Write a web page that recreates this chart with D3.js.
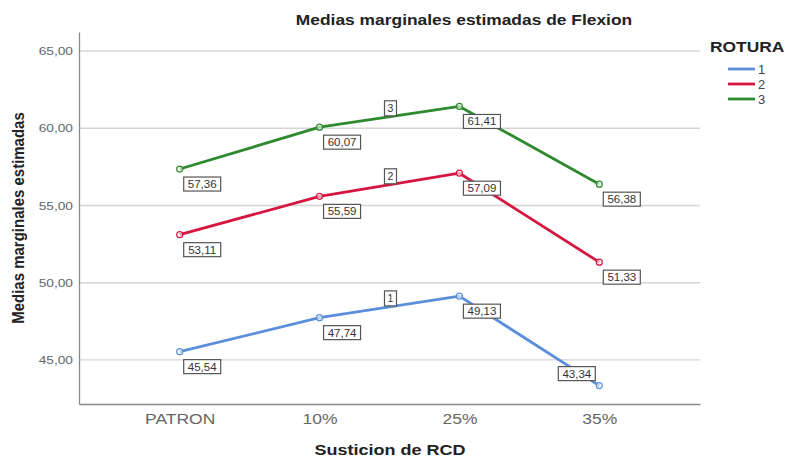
<!DOCTYPE html>
<html>
<head>
<meta charset="utf-8">
<script src="https://cdn.jsdelivr.net/npm/d3@7"></script>
<style>
  body { margin: 0; background: #fff; }
  text { font-family: "Liberation Sans", Arial, sans-serif; }
</style>
</head>
<body>
<svg id="chart" width="788" height="459"></svg>
<script>
// Data
const categories = ["PATRON", "10%", "25%", "35%"];
const seriesNames = ["1", "2", "3"];
const rotura1 = [45.54, 47.74, 49.13, 43.34];
const rotura2 = [53.11, 55.59, 57.09, 51.33];
const rotura3 = [57.36, 60.07, 61.41, 56.38];
const yTicks = [45, 50, 55, 60, 65];

const colors = ["#5b8fdc", "#d6163f", "#2f8a2f"];
const series = [rotura1, rotura2, rotura3].map((vals, i) => ({
    name: seriesNames[i],
    color: colors[i],
    values: vals.map((v, j) => ({cat: categories[j], v: v}))
}));

const margin = {top: 32, right: 88, bottom: 55, left: 79},
    width = 788 - margin.left - margin.right,
    height = 459 - margin.top - margin.bottom;

// the reference picture is stretched sideways, so text is widened too
const stretch = 1.2;

const svg = d3.select("#chart");
const g = svg.append("g")
    .attr("transform", `translate(${margin.left},${margin.top})`);

const locale = d3.formatLocale({decimal: ",", thousands: ".", grouping: [3], currency: ["", ""]});
const fmt = locale.format(".2f");

// text placed at (x, y) and widened by sx
function addText(parent, x, y, sx) {
    return parent.append("text")
        .attr("transform", `translate(${x},${y}) scale(${sx},1)`);
}

// Scales
const x = d3.scalePoint()
    .domain(categories)
    .range([0, width])
    .padding(0.72);

const y = d3.scaleLinear()
    .domain([42.15, 66.23])
    .range([height, 0]);

// Grid lines
g.append("g")
    .selectAll("line")
    .data(yTicks)
    .enter()
    .append("line")
    .attr("x1", 0)
    .attr("x2", width)
    .attr("y1", d => y(d))
    .attr("y2", d => y(d))
    .attr("stroke", "#d4d4d4")
    .attr("stroke-width", 1.3);

// Axes
const yAxis = g.append("g")
    .call(d3.axisLeft(y).tickValues(yTicks).tickFormat(fmt).tickSize(0).tickPadding(0));
yAxis.select(".domain").attr("stroke", "#8a8a8a").attr("stroke-width", 1.3);
yAxis.selectAll("text")
    .attr("x", 0)
    .attr("transform", "translate(-6,0) scale(1.25,1)")
    .attr("fill", "#666").style("font-size", "11px");

const xAxis = g.append("g")
    .attr("transform", `translate(0,${height})`)
    .call(d3.axisBottom(x).tickSize(0).tickPadding(10));
xAxis.select(".domain").attr("stroke", "#8a8a8a").attr("stroke-width", 1.3);
xAxis.selectAll("text")
    .attr("transform", "scale(1.25,1)")
    .attr("fill", "#666").style("font-size", "14px");

// Lines
const line = d3.line()
    .x(d => x(d.cat))
    .y(d => y(d.v));

g.selectAll(".series")
    .data(series)
    .enter()
    .append("path")
    .attr("class", "series")
    .attr("d", d => line(d.values))
    .attr("fill", "none")
    .attr("stroke", d => d.color)
    .attr("stroke-width", 2.8)
    .attr("stroke-linejoin", "round");

// Markers
series.forEach(s => {
    g.selectAll(null)
        .data(s.values)
        .enter()
        .append("circle")
        .attr("cx", d => x(d.cat))
        .attr("cy", d => y(d.v))
        .attr("r", 3)
        .attr("fill", "#fff")
        .attr("fill-opacity", 0.6)
        .attr("stroke", s.color)
        .attr("stroke-width", 1.2);
});

// Value labels
const boxW = 37, boxH = 14;
series.forEach(s => {
    s.values.forEach(d => {
        const px = x(d.cat), py = y(d.v);
        // near the bottom the label goes up-left of the point
        const low = py > height - 30;
        const bx = low ? px - boxW - 4 : px + 4;
        const by = low ? py - boxH - 5 : py + 8;
        const lab = g.append("g").attr("transform", `translate(${bx},${by})`);
        lab.append("rect")
            .attr("width", boxW).attr("height", boxH)
            .attr("fill", "#fff").attr("stroke", "#555").attr("stroke-width", 1.2);
        addText(lab, boxW / 2, boxH / 2 + 4, 1.1)
            .attr("text-anchor", "middle")
            .attr("fill", "#333")
            .style("font-size", "10.5px")
            .text(fmt(d.v));
    });

    // series name label, between 10% and 25%
    const a = s.values[1], b = s.values[2];
    const mx = (x(a.cat) + x(b.cat)) / 2, my = (y(a.v) + y(b.v)) / 2;
    const nl = g.append("g").attr("transform", `translate(${mx - 5},${my - 16})`);
    nl.append("rect")
        .attr("width", 12).attr("height", 15)
        .attr("fill", "#fff").attr("stroke", "#555").attr("stroke-width", 1.2);
    nl.append("text")
        .attr("x", 6).attr("y", 11.5)
        .attr("text-anchor", "middle")
        .attr("fill", "#333")
        .style("font-size", "10.5px")
        .text(s.name);
});

// Title
addText(svg, 464, 25, 1.16)
    .attr("text-anchor", "middle")
    .style("font-size", "15px")
    .style("font-weight", "bold")
    .attr("fill", "#222")
    .text("Medias marginales estimadas de Flexion");

// Axis titles
addText(svg, 390, 455, stretch)
    .attr("text-anchor", "middle")
    .style("font-size", "15px")
    .style("font-weight", "bold")
    .attr("fill", "#222")
    .text("Susticion de RCD");

svg.append("text")
    .attr("transform", "translate(24,218) rotate(-90) scale(1,1.1)")
    .attr("text-anchor", "middle")
    .style("font-size", "15px")
    .style("font-weight", "bold")
    .attr("fill", "#222")
    .text("Medias marginales estimadas");

// Legend
const legend = svg.append("g").attr("transform", "translate(710,0)");
addText(legend, 0, 52, stretch)
    .style("font-size", "14.5px")
    .style("font-weight", "bold")
    .attr("fill", "#222")
    .text("ROTURA");

const li = legend.selectAll(".li")
    .data(series)
    .enter()
    .append("g")
    .attr("transform", (d, i) => `translate(0,${69 + i * 15})`);
li.append("line")
    .attr("x1", 18).attr("x2", 45)
    .attr("y1", 0).attr("y2", 0)
    .attr("stroke", d => d.color)
    .attr("stroke-width", 2.8);
li.append("text")
    .attr("x", 48).attr("y", 5)
    .style("font-size", "13px")
    .attr("fill", "#444")
    .text(d => d.name);
</script>
</body>
</html>
